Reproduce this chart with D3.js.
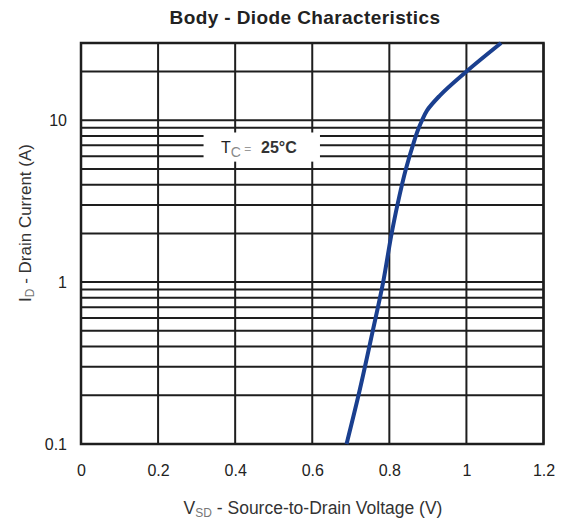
<!DOCTYPE html>
<html><head><meta charset="utf-8">
<script src="https://cdn.jsdelivr.net/npm/d3@7"></script>
<style>body{margin:0;background:#fff}svg{display:block;font-family:"Liberation Sans",Arial,sans-serif}</style>
</head><body><svg id="c" width="571" height="522"></svg>
<script>
const vsd = [0.689, 0.72, 0.757, 0.784, 0.806, 0.821, 0.843, 0.861, 0.875, 0.885, 0.898, 0.931, 1.0, 1.09];
const id  = [0.1, 0.2, 0.5, 1, 2, 3, 5, 7, 8.8, 10, 11.5, 14.2, 20, 30];
const xTicks = [0, 0.2, 0.4, 0.6, 0.8, 1, 1.2];
const yTickLabels = [0.1, 1, 10];
const yGrid = [0.1,0.2,0.3,0.4,0.5,0.6,0.7,0.8,0.9,1,2,3,4,5,6,7,8,9,10,20,30];

const svg = d3.select("#c");
const L = 81, R = 543.5, T = 43, B = 444;
const x = d3.scaleLinear().domain([0, 1.2]).range([L, R]);
const y = d3.scaleLog().domain([0.1, 30]).range([B, T]);
const FF = "Liberation Sans, Arial, sans-serif";

const g = svg.append("g");
g.selectAll(".hg").data(yGrid).join("line")
  .attr("x1", L).attr("x2", R).attr("y1", d => y(d)).attr("y2", d => y(d))
  .attr("stroke", "#1e1e1e").attr("stroke-width", 2);
g.selectAll(".vg").data(xTicks).join("line")
  .attr("x1", d => x(d)).attr("x2", d => x(d)).attr("y1", T).attr("y2", B)
  .attr("stroke", "#1e1e1e").attr("stroke-width", 2);
g.append("rect").attr("x", L).attr("y", T).attr("width", R - L).attr("height", B - T)
  .attr("fill", "none").attr("stroke", "#1e1e1e").attr("stroke-width", 2.5);

// label box
const lb = svg.append("g");
lb.append("rect").attr("x", x(0.318)).attr("y", y(8.4)).attr("width", x(0.62) - x(0.318)).attr("height", y(5.55) - y(8.4)).attr("fill", "#fff");
const tl = lb.append("text").attr("x", 221).attr("y", 153).attr("font-size", 16).attr("fill", "#222");
tl.append("tspan").text("T");
tl.append("tspan").attr("font-size", 14).attr("dy", 4).attr("fill", "#888").text("C");
tl.append("tspan").attr("dy", -4).attr("font-size", 12).attr("fill", "#999").text(" =");
tl.append("tspan").attr("x", 261).attr("font-weight", "bold").attr("fill", "#333").text("25°C");

// curve
const pts = vsd.map((v, i) => [v, id[i]]);
svg.append("path").datum(pts)
  .attr("d", d3.line().x(d => x(d[0])).y(d => y(d[1])).curve(d3.curveMonotoneY))
  .attr("fill", "none").attr("stroke", "#1a3f8f").attr("stroke-width", 4);

const xa = svg.append("g").attr("transform", `translate(0,${B})`)
  .call(d3.axisBottom(x).tickValues(xTicks).tickSize(0).tickPadding(21).tickFormat(d3.format("~g")));
xa.select(".domain").remove();
xa.selectAll("text").attr("font-size", 16).attr("fill", "#222").attr("font-family", FF);

const ya = svg.append("g").attr("transform", `translate(${L},0)`)
  .call(d3.axisLeft(y).tickValues(yTickLabels).tickSize(0).tickPadding(14).tickFormat(d3.format("~g")));
ya.select(".domain").remove();
ya.selectAll("text").attr("font-size", 16).attr("fill", "#222").attr("font-family", FF);

svg.append("text").attr("x", 305).attr("y", 24).attr("text-anchor", "middle")
  .attr("font-size", 19).attr("font-weight", "bold").attr("letter-spacing", 0.4).attr("fill", "#222").text("Body - Diode Characteristics");

const xt = svg.append("text").attr("x", 313).attr("y", 514).attr("text-anchor", "middle").attr("font-size", 17.5).attr("fill", "#333");
xt.append("tspan").text("V");
xt.append("tspan").attr("font-size", 12).attr("dy", 3).attr("fill", "#777").text("SD");
xt.append("tspan").attr("dy", -3).text(" - Source-to-Drain Voltage (V)");

const yt = svg.append("text").attr("transform", "translate(31,223) rotate(-90)").attr("text-anchor", "middle").attr("font-size", 17).attr("fill", "#333");
yt.append("tspan").text("I");
yt.append("tspan").attr("font-size", 12).attr("dy", 3).attr("fill", "#777").text("D");
yt.append("tspan").attr("dy", -3).text(" - Drain Current (A)");
</script></body></html>
